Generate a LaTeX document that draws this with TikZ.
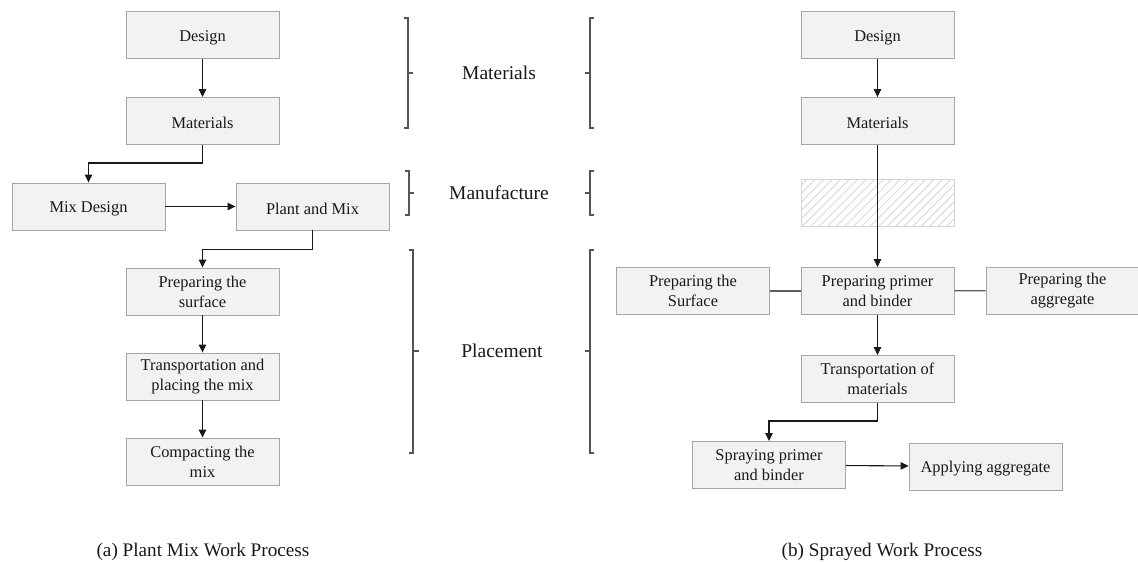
\documentclass[tikz,border=0pt]{standalone}
\usepackage{fontspec}
\setmainfont{Liberation Serif}
\newfontfamily\timesface{Liberation Serif}
\usetikzlibrary{arrows.meta,patterns.meta}
\definecolor{boxfill}{RGB}{242,242,242}
\definecolor{boxline}{RGB}{165,165,165}
\definecolor{hatchline}{RGB}{212,212,212}
\definecolor{brk}{RGB}{85,85,85}
\definecolor{ink}{RGB}{25,25,25}
\tikzset{
  stepbox/.style={draw=boxline, fill=boxfill, line width=0.9pt,
    minimum width=153pt, minimum height=47pt, inner sep=0pt,
    align=center, font=\timesface\fontsize{16.4}{20}\selectfont, text=ink,
    execute at begin node={\rule{0pt}{16pt}}},
  hatchbox/.style={draw=hatchline, line width=0.9pt,
    minimum width=153pt, minimum height=47pt, inner sep=0pt,
    pattern={Lines[angle=45,distance=6pt,line width=0.8pt]}, pattern color=hatchline},
  flow/.style={draw=ink, line width=1.1pt, -{Triangle[length=8pt,width=7.5pt]}},
  link/.style={draw=ink!70, line width=1.1pt},
  bracketline/.style={draw=brk, line width=1.2pt},
  phase/.style={font=\timesface\fontsize{19.5}{23}\selectfont, text=ink},
  caption/.style={font=\timesface\fontsize{19.2}{23}\selectfont, text=ink}
}
\begin{document}
\begin{tikzpicture}[x=1pt,y=-1pt]
\useasboundingbox (0,0) rectangle (1138,562);

% ---- (a) plant mix work process ----
\node[stepbox] (ldesign) at (202.5,35) {Design};
\node[stepbox] (lmat) at (202.5,121) {Materials};
\node[stepbox] (mixd) at (88.5,206.5) {Mix Design};
\node[stepbox] (plant) at (312.5,206.5) {Plant and Mix};
\node[stepbox] (prep) at (202.5,291.5) {Preparing the\\surface};
\node[stepbox] (trans) at (202.5,376.5) {Transportation and\\placing the mix};
\node[stepbox] (comp) at (202.5,461.5) {Compacting the\\mix};

\draw[flow] (ldesign) -- (lmat);
\draw[flow] (lmat.south) -- ++(0,18) -| (mixd.north);
\draw[flow] (mixd) -- (plant);
\draw[flow] (plant.south) -- ++(0,19) -| (prep.north);
\draw[flow] (prep) -- (trans);
\draw[flow] (trans) -- (comp);

\node[caption] (capa) at (203,552) {(a) Plant Mix Work Process};

% ---- phase labels with their brackets ----
\node[phase] (phmat) at (499,73) {Materials};
\node[phase] (phman) at (499,193) {Manufacture};
\node[phase] (phpla) at (502,351) {Placement};

% left-hand brackets
\draw[bracketline] (404,18) -- (408,18) -- (408,128) -- (404,128);
\draw[bracketline] (408,73) -- (413,73);
\draw[bracketline] (405,171) -- (409,171) -- (409,215) -- (405,215);
\draw[bracketline] (409,193) -- (414,193);
\draw[bracketline] (409,250) -- (413,250) -- (413,453) -- (409,453);
\draw[bracketline] (413,351) -- (419,351);
% right-hand brackets
\draw[bracketline] (594,18) -- (590,18) -- (590,128) -- (594,128);
\draw[bracketline] (590,73) -- (585,73);
\draw[bracketline] (594,171) -- (590,171) -- (590,215) -- (594,215);
\draw[bracketline] (590,193) -- (585,193);
\draw[bracketline] (594,250) -- (590,250) -- (590,453) -- (594,453);
\draw[bracketline] (590,351) -- (585,351);

% ---- (b) sprayed work process ----
\node[stepbox] (rdesign) at (877.5,35) {Design};
\node[stepbox] (rmat) at (877.5,121) {Materials};
\node[hatchbox] (skip) at (877.5,202.5) {};
\node[stepbox] (rsurf) at (693,291) {Preparing the\\Surface};
\node[stepbox] (primer) at (877.5,291) {Preparing primer\\and binder};
\node[stepbox] (aggr) at (1062.5,290.5) {Preparing the\\aggregate};
\node[stepbox] (rtrans) at (877.5,379) {Transportation of\\materials};
\node[stepbox] (spray) at (769,465) {Spraying primer\\and binder};
\node[stepbox] (apply) at (985.5,466.5) {Applying aggregate};

\draw[flow] (rdesign) -- (rmat);
\draw[flow] (rmat) -- (primer);
\draw[link] (rsurf) -- (primer);
\draw[link] (primer) -- (aggr);
\draw[flow] (primer) -- (rtrans);
\draw[flow] (rtrans.south) -- ++(0,18) -| (spray.north);
\draw[flow] (spray) -- (apply);

\node[caption] (capb) at (882,552) {(b) Sprayed Work Process};
\end{tikzpicture}
\end{document}
